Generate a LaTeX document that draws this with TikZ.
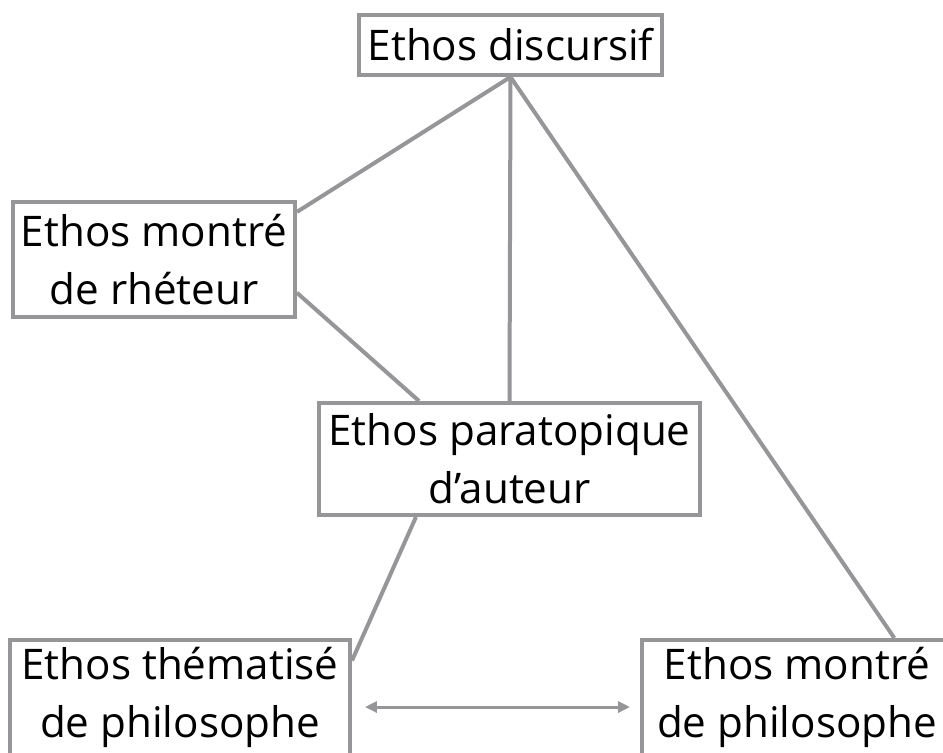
\documentclass[tikz,border=0pt]{standalone}
\usepackage{fontspec}
\setmainfont{Open Sans}
\usetikzlibrary{calc,arrows.meta}
\definecolor{edgegray}{RGB}{150,150,153}

\begin{document}
\begin{tikzpicture}[x=0.02cm,y=-0.02cm,
  box/.style={draw=edgegray,line width=0.08cm,inner sep=0pt,align=center,font=\fontsize{24}{33}\selectfont},
  link/.style={edgegray,line width=0.08cm}]
\useasboundingbox (0,0) rectangle (943,753);
\clip (0,0) rectangle (943,753);
%boxes
\node[box,minimum width=6.06cm,minimum height=1.2cm] (disc) at (510.5,45) {Ethos discursif};
\node[box,minimum width=5.64cm,minimum height=2.3cm] (rhet) at (154,259.5) {Ethos montré\\de rhéteur};
\node[box,minimum width=7.62cm,minimum height=2.24cm] (para) at (509.5,459) {Ethos paratopique\\d’auteur};
\node[box,minimum width=6.8cm,minimum height=2.3cm] (them) at (180,697.5) {Ethos thématisé\\de philosophe};
\node[box,minimum width=6.2cm,minimum height=2.3cm] (phil) at (797,697.5) {Ethos montré\\de philosophe};
%lines
\draw[link] (disc.south) -- ($(rhet.north east)!0.1!(rhet.south east)$);
\draw[link] (disc.south) -- (para.north);
\draw[link] (disc.south) -- ($(phil.north west)!0.81!(phil.north east)$);
\draw[link] ($(rhet.north east)!0.78!(rhet.south east)$) -- ($(para.north west)!0.265!(para.north east)$);
\draw[link] ($(para.south west)!0.257!(para.south east)$) -- ($(them.north east)!0.19!(them.south east)$);
%arrow
\draw[link,line width=0.06cm,{Triangle[length=0.24cm,width=0.22cm]}-{Triangle[length=0.24cm,width=0.22cm]},shorten <=0.26cm,shorten >=0.2cm]
  ($(them.north east)!0.58!(them.south east)$) -- ($(phil.north west)!0.58!(phil.south west)$);
\end{tikzpicture}
\end{document}
